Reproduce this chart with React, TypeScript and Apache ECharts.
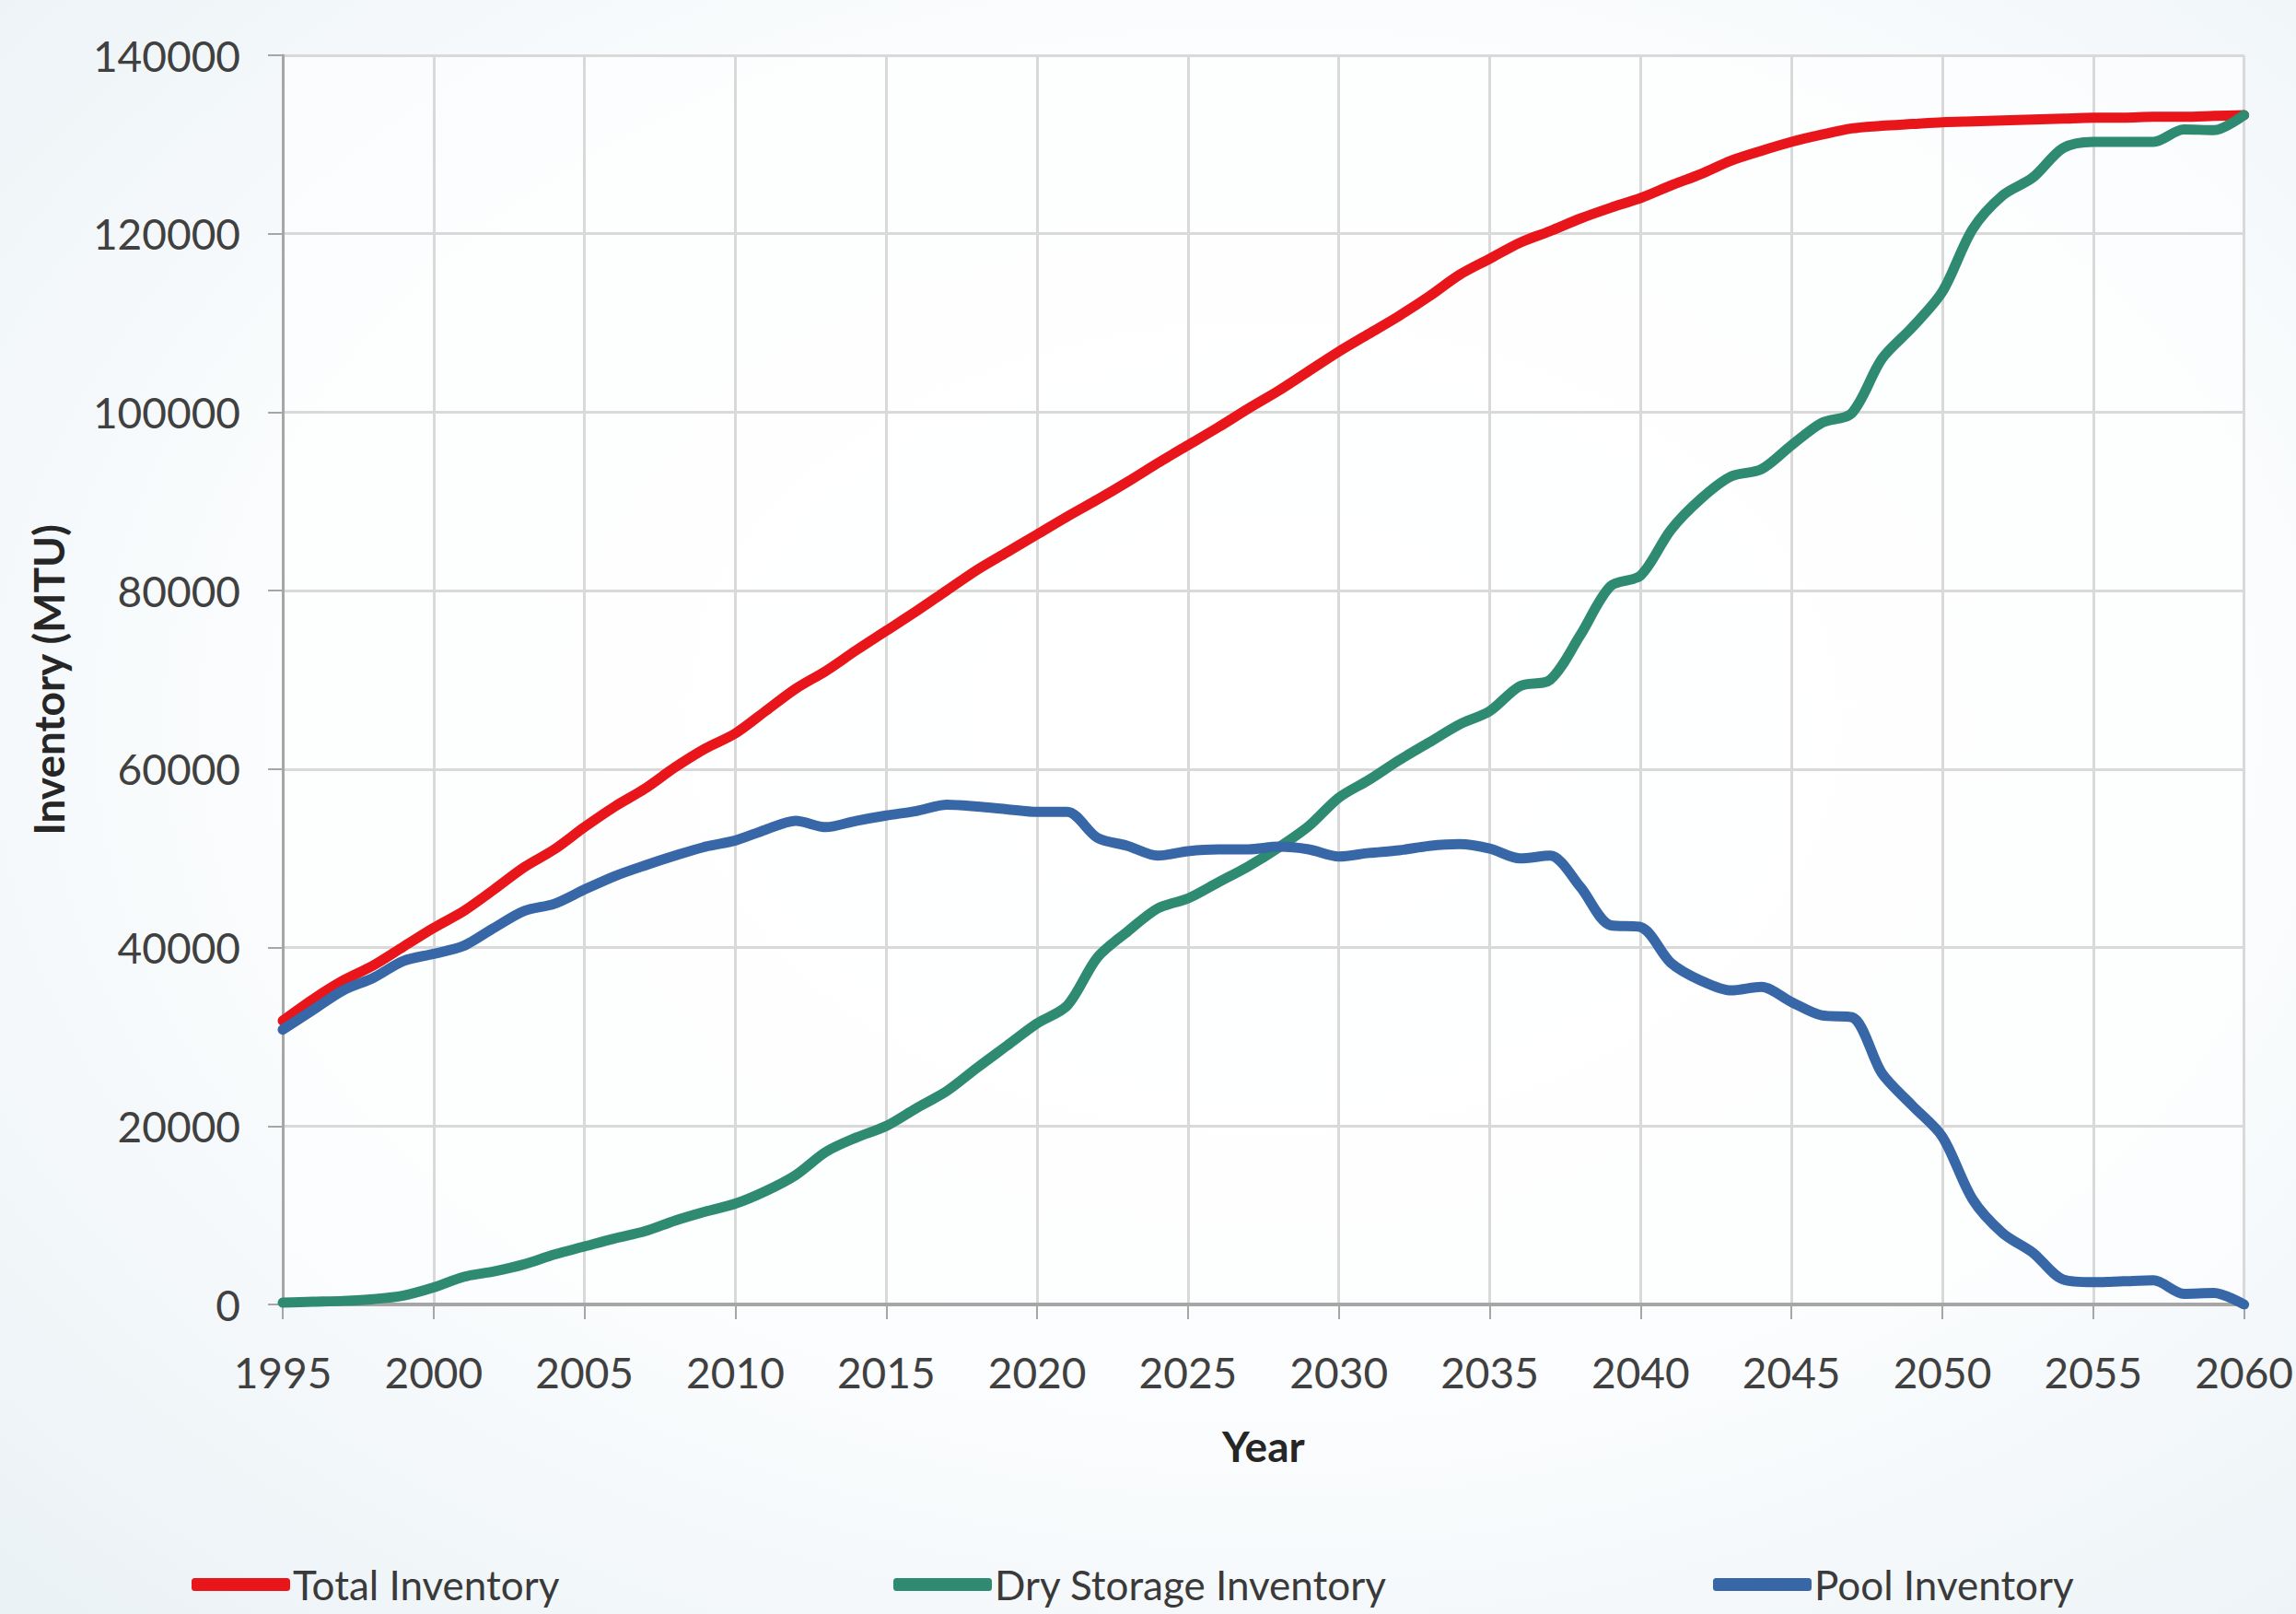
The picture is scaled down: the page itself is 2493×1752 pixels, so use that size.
import React, { useEffect, useRef } from "react";
import * as echarts from "echarts";

const years: number[] = [];
for (let y = 1995; y <= 2060; y++) years.push(y);

const totalInventory = [
  31800, 34200, 36300, 38000, 40100, 42200, 44100, 46500, 49000, 51000,
  53500, 55800, 57800, 60200, 62300, 64000, 66500, 69000, 71000, 73300,
  75500, 77700, 80000, 82300, 84300, 86300, 88300, 90200, 92200, 94300,
  96300, 98300, 100400, 102400, 104600, 106800, 108800, 110800, 113000, 115400,
  117200, 119000, 120300, 121700, 122900, 124000, 125400, 126700, 128200, 129300,
  130300, 131100, 131800, 132100, 132300, 132500, 132600, 132700, 132800, 132900,
  133000, 133000, 133100, 133100, 133200, 133300,
];

const dryStorageInventory = [
  200, 300, 400, 600, 1000, 1900, 3100, 3700, 4500, 5600,
  6500, 7400, 8200, 9400, 10400, 11300, 12700, 14500, 17100, 18700,
  20000, 22000, 23900, 26500, 29000, 31500, 33500, 38900, 41800, 44400,
  45500, 47300, 49100, 51200, 53600, 56800, 58800, 61000, 63000, 65000,
  66500, 69300, 70000, 75000, 80500, 81700, 86800, 90300, 92800, 93600,
  96300, 98800, 99900, 106000, 109500, 113500, 120500, 124300, 126300, 129600,
  130300, 130300, 130300, 131700, 131600, 133300,
];

const poolInventory = [
  30800, 33000, 35200, 36600, 38500, 39300, 40200, 42200, 44100, 44900,
  46500, 48000, 49200, 50300, 51300, 52000, 53200, 54200, 53500, 54200,
  54800, 55300, 56000, 55800, 55500, 55200, 55200, 52300, 51400, 50300,
  50800, 51000, 51000, 51300, 51000, 50200, 50600, 50900, 51400, 51600,
  51100, 50000, 50300, 46800, 42500, 42300, 38300, 36300, 35200, 35600,
  33900, 32400, 32200, 25900, 22300, 18800, 11800, 8000, 5800, 2800,
  2500, 2600, 2700, 1200, 1300, 0,
];

const seriesNames = ["Total Inventory", "Dry Storage Inventory", "Pool Inventory"];
const seriesColors = ["#e8161b", "#2f8a72", "#3767a7"];

const FONT = "Lato, 'Open Sans', sans-serif";

export default function App() {
  const ref = useRef<HTMLDivElement>(null);

  useEffect(() => {
    document.body.style.margin = "0";
    if (!ref.current) return;
    const chart = echarts.init(ref.current, null, { renderer: "svg" });
    const pair = (arr: number[]) => years.map((y, i) => [y, arr[i]]);
    const seriesData = [totalInventory, dryStorageInventory, poolInventory];

    chart.setOption({
      animation: false,
      backgroundColor: {
        type: "radial",
        x: 0.55,
        y: 0.45,
        r: 0.75,
        colorStops: [
          { offset: 0, color: "#ffffff" },
          { offset: 0.6, color: "#fafcfd" },
          { offset: 1, color: "#ebf2f6" },
        ],
      },
      grid: {
        left: 307,
        right: 56,
        top: 60,
        bottom: 336,
        show: true,
        backgroundColor: "rgba(255,255,255,0.55)",
        borderWidth: 0,
      },
      legend: seriesNames.map((n, i) => ({
        data: [n],
        left: [203, 965, 1855][i],
        top: 1693,
        icon: "roundRect",
        itemWidth: 107,
        itemHeight: 14,
        itemGap: 0,
        textStyle: {
          fontFamily: FONT,
          fontSize: 44,
          color: "#3a3a3a",
          padding: [0, 0, 0, -2],
        },
      })),
      xAxis: {
        type: "value",
        min: 1995,
        max: 2060,
        interval: 5,
        name: "Year",
        nameLocation: "middle",
        nameGap: 130,
        nameTextStyle: {
          fontFamily: FONT,
          fontSize: 46,
          fontWeight: "bold",
          color: "#262626",
        },
        axisLine: { show: true, onZero: false, lineStyle: { color: "#a6a6a6", width: 4 } },
        axisTick: { show: true, length: 16, lineStyle: { color: "#a6a6a6", width: 2 } },
        axisLabel: {
          fontFamily: FONT,
          fontSize: 46,
          color: "#404040",
          margin: 50,
          formatter: (v: number) => String(v),
        },
        splitLine: { show: true, lineStyle: { color: "#d9d9d9", width: 3 } },
      },
      yAxis: {
        type: "value",
        min: 0,
        max: 140000,
        interval: 20000,
        name: "Inventory (MTU)",
        nameLocation: "middle",
        nameGap: 232,
        nameTextStyle: {
          fontFamily: FONT,
          fontSize: 46,
          fontWeight: "bold",
          color: "#262626",
        },
        axisLine: { show: true, lineStyle: { color: "#a6a6a6", width: 3 } },
        axisTick: { show: true, length: 16, lineStyle: { color: "#a6a6a6", width: 2 } },
        axisLabel: {
          fontFamily: FONT,
          fontSize: 46,
          color: "#404040",
          margin: 46,
          formatter: (v: number) => String(v),
        },
        splitLine: { show: true, lineStyle: { color: "#d9d9d9", width: 3 } },
      },
      series: seriesNames.map((n, i) => ({
        name: n,
        type: "line",
        data: pair(seriesData[i]),
        smooth: 0.3,
        showSymbol: false,
        symbol: "none",
        color: seriesColors[i],
        lineStyle: { color: seriesColors[i], width: 11, cap: "round", join: "round" },
        z: 2 + i,
      })),
    });

    return () => chart.dispose();
  }, []);

  return <div ref={ref} style={{ width: 2493, height: 1752 }} />;
}
